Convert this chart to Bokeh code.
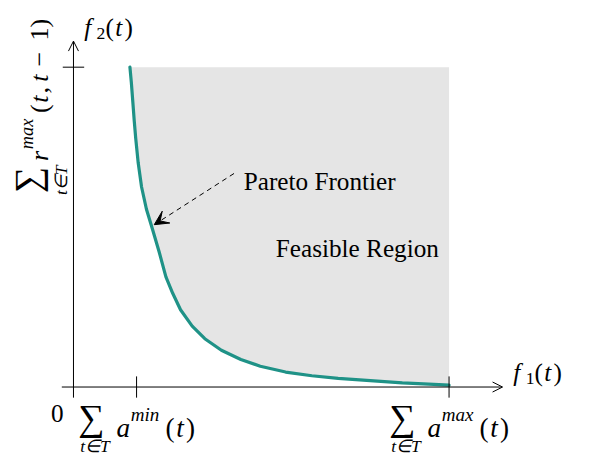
from math import pi
from bokeh.plotting import figure
from bokeh.models import Label, Arrow, OpenHead, VeeHead, Range1d
from bokeh.embed import file_html
from bokeh.resources import INLINE

# ---------------- data (normalised units: sum a^max = 1, sum r^max = 1) ----------------
frontier_f1 = [0.1503, 0.1541, 0.1580, 0.1619, 0.1658, 0.1723, 0.1813, 0.1943, 0.2098,
               0.2280, 0.2461, 0.2642, 0.2850, 0.3161, 0.3497, 0.3938, 0.4456, 0.4974,
               0.5648, 0.6347, 0.7047, 0.7902, 0.8756, 0.9456, 1.0000]
frontier_f2 = [1.0000, 0.9517, 0.8912, 0.8308, 0.7764, 0.7009, 0.6254, 0.5559, 0.4955,
               0.4230, 0.3444, 0.2931, 0.2417, 0.1903, 0.1511, 0.1148, 0.0861, 0.0650,
               0.0468, 0.0353, 0.0272, 0.0202, 0.0130, 0.0091, 0.0060]
a_min_total = 0.168
a_max_total = 1.000
r_max_total = 1.000
x_tick_values = [a_min_total, a_max_total]
x_tick_superscripts = ["min", "max"]
region_label = "Feasible Region"
frontier_label = "Pareto Frontier"

TEAL = "#1f9287"
GRAY = "#e5e5e5"
SERIF = "Liberation Serif"

# ---------------- figure geometry ----------------
W, H = 577, 459
KX, KY = W / 593.0, H / 475.0      # reference-pixel -> figure-pixel
KF = (KX + KY) / 2                 # font scale
OX, OY = 75, 400                   # reference pixel of data origin
SXr, SYr = 386.0, 331.0            # reference pixels per data unit
OXf, OYf = OX * KX, OY * KY
SX, SY = SXr * KX, SYr * KY

p = figure(width=W, height=H,
           x_range=Range1d(-OXf / SX, (W - OXf) / SX),
           y_range=Range1d(-(H - OYf) / SY, OYf / SY),
           x_axis_type=None, y_axis_type=None,
           toolbar_location=None, output_backend="svg",
           min_border=0, outline_line_color=None)
p.min_border_left = p.min_border_right = p.min_border_top = p.min_border_bottom = 0
p.background_fill_color = "white"


def page_px(xd):
    return OX + xd * SXr


def page_py(yd):
    return OY - yd * SYr


def scr(px, py):
    return px * KX, H - py * KY


# feasible region and frontier
region_x = frontier_f1 + [a_max_total]
region_y = frontier_f2 + [r_max_total]
p.patch(region_x, region_y, fill_color=GRAY, line_color=None)
p.line(frontier_f1, frontier_f2, line_color=TEAL, line_width=3.2,
       line_join="round", line_cap="round")

# axes with arrow heads
p.add_layout(Arrow(x_start=-12 / SXr, y_start=0, x_end=(516 - OX) / SXr, y_end=0,
                   end=OpenHead(size=10, line_width=1), line_width=1, line_color="black"))
p.add_layout(Arrow(x_start=0, y_start=-11 / SYr, x_end=0, y_end=(OY - 42) / SYr,
                   end=OpenHead(size=10, line_width=1), line_width=1, line_color="black"))

# ticks
tk = 11
p.segment(x0=x_tick_values, y0=[-tk / SYr] * 2, x1=x_tick_values, y1=[tk / SYr] * 2,
          line_color="black", line_width=1)
p.segment(x0=[-tk / SXr], y0=[r_max_total], x1=[tk / SXr], y1=[r_max_total],
          line_color="black", line_width=1)


def lab(px, py, text, size, italic=False, align="left", baseline="alphabetic", angle=0.0):
    sx, sy = scr(px, py)
    p.add_layout(Label(x=sx, y=sy, x_units="screen", y_units="screen", text=text,
                       text_font=SERIF, text_font_size=f"{round(size * KF, 1)}px",
                       text_font_style="italic" if italic else "normal",
                       text_align=align, text_baseline=baseline, angle=angle,
                       text_color="black"))


def run(x0, y0, pieces, size, vertical=False):
    cur = 0.0
    for text, italic, rel, rise, adv in pieces:
        if not vertical:
            px, py = x0 + cur, y0 - rise * size
        else:
            px, py = x0 - rise * size, y0 - cur
        lab(px, py, text, size * rel, italic, angle=pi / 2 if vertical else 0.0)
        cur += adv * size
    return cur


PAREN_T = [("(", False, 1, 0, 0.389), ("t", True, 1, 0, 0.361), (")", False, 1, 0, 0.389)]

# axis titles
run(86, 28, [("f", True, 1, 0, 0.49), ("2", False, 0.7, -0.25, 0.35)] + PAREN_T, 26)
run(527, 385, [("f", True, 1, 0, 0.49), ("1", False, 0.7, -0.25, 0.35)] + PAREN_T, 26)

# origin
lab(52, 427, "0", 26)

# x tick labels
sup_w = {"min": 0.878 + 0.345 + 0.600, "max": 0.878 + 0.529 + 0.572}
for xv, sup in zip(x_tick_values, x_tick_superscripts):
    tpx = page_px(xv)
    base = 28
    width = 41 + 0.529 * base + sup_w[sup] * 0.7 * base + 1.139 * base
    start = tpx - width / 2
    lab(start + 15, 432, "\u2211", 38, align="center", baseline="middle")
    lab(start + 19, 461, "t\u2208T", 18, italic=True, align="center")
    run(start + 41, 442, [("a", True, 1, 0, 0.529),
                          (sup, True, 0.7, 0.47, sup_w[sup] * 0.7)] + PAREN_T, base)

# y tick label (rotated, sits beside the r_max tick)
lab(28, 186, "\u2211", 38, align="center", baseline="middle", angle=pi / 2)
lab(62, 186, "t\u2208T", 18, italic=True, align="center", angle=pi / 2)
run(40, 166, [("r", True, 1, 0, 0.451), ("max", True, 0.7, 0.47, 1.979 * 0.7),
              ("(", False, 1, 0, 0.389), ("t", True, 1, 0, 0.361),
              (",", False, 1, 0, 0.445), ("t", True, 1, 0, 0.583),
              ("\u2212", False, 1, 0, 1.0), ("1", False, 1, 0, 0.5),
              (")", False, 1, 0, 0.389)], 27, vertical=True)

# annotations
lab(250, 187, frontier_label, 26)
lab(283, 257, region_label, 26)
s0 = scr(240, 179)
s1 = scr(158, 232)
p.add_layout(Arrow(x_start=s0[0], y_start=s0[1], x_end=s1[0], y_end=s1[1],
                   start_units="screen", end_units="screen",
                   end=VeeHead(size=14, fill_color="black", line_color="black", line_width=1),
                   line_width=1, line_dash="5 4", line_color="black"))

open("out.html", "w").write(file_html(p, INLINE))
